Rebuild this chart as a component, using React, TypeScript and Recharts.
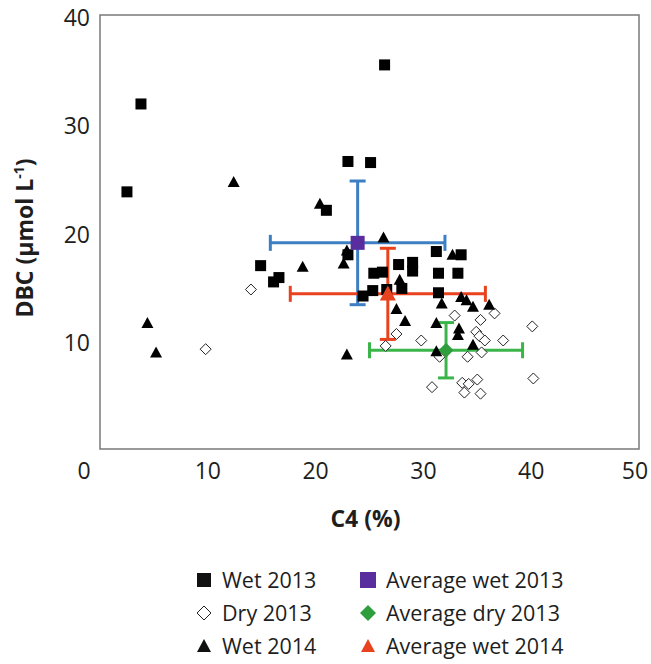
import { ScatterChart, Scatter, XAxis, YAxis, ErrorBar, ReferenceArea, Label } from "recharts";

// C4 (%) vs DBC (µmol L-1)
const wet2013X = [2.5, 3.8, 26.4, 23.0, 25.1, 21.0, 14.9, 16.6, 16.1, 23.0, 27.7, 29.0, 29.0, 31.2, 33.5, 31.4, 33.2, 25.4, 26.2, 28.0, 24.4, 25.3, 26.6, 31.4];
const wet2013Y = [23.7, 31.8, 35.4, 26.5, 26.4, 22.0, 16.9, 15.8, 15.4, 17.9, 17.0, 17.2, 16.4, 18.2, 17.9, 16.2, 16.2, 16.2, 16.3, 14.8, 14.1, 14.6, 14.7, 14.4];

const dry2013X = [9.8, 14.0, 26.5, 27.5, 29.8, 32.9, 35.3, 36.6, 40.1, 34.9, 35.2, 35.7, 37.4, 35.4, 34.1, 31.5, 40.2, 30.8, 33.6, 34.2, 35.0, 33.8, 35.3];
const dry2013Y = [9.2, 14.7, 9.5, 10.6, 10.0, 12.3, 11.9, 12.5, 11.3, 10.8, 10.4, 10.0, 10.0, 8.9, 8.5, 8.5, 6.5, 5.7, 6.1, 6.0, 6.4, 5.2, 5.1];

const wet2014X = [4.4, 5.2, 12.4, 20.4, 18.8, 22.9, 22.6, 26.3, 27.8, 27.5, 28.3, 22.9, 31.2, 31.7, 32.7, 33.5, 34.0, 34.6, 36.1, 33.3, 33.2, 34.6, 31.2];
const wet2014Y = [11.6, 8.9, 24.6, 22.6, 16.8, 18.3, 17.1, 19.5, 15.6, 12.9, 11.8, 8.7, 11.6, 13.4, 17.9, 14.0, 13.7, 13.1, 13.3, 11.1, 10.5, 9.6, 9.0];

// averages: mean and error (x, y)
const avgWet2013 = { x: 23.9, y: 19.0, ex: 8.1, ey: 5.7 };
const avgDry2013 = { x: 32.1, y: 9.1, ex: 7.1, ey: 2.55 };
const avgWet2014 = { x: 26.7, y: 14.3, ex: 9.05, ey: 4.2 };

const xTicks = [0, 10, 20, 30, 40, 50];
const yTicks = [10, 20, 30, 40];

const toPoints = (xs: number[], ys: number[]) => xs.map((x, i) => ({ x, y: ys[i] }));

const PURPLE = "#5a2d9e";
const GREEN = "#2f9e3c";
const GREEN_BAR = "#3bb54a";
const RED = "#e8421e";
const BLUE = "#3d7fc2";

const square = (size: number, fill: string) => (p: any) => (
  <rect x={p.cx - size / 2} y={p.cy - size / 2} width={size} height={size} fill={fill} />
);
const triangle = (w: number, h: number, fill: string) => (p: any) => (
  <path d={`M${p.cx},${p.cy - h * 0.55}L${p.cx + w / 2},${p.cy + h * 0.45}L${p.cx - w / 2},${p.cy + h * 0.45}Z`} fill={fill} />
);
const diamond = (r: number, fill: string, stroke?: string) => (p: any) => (
  <path
    d={`M${p.cx},${p.cy - r}L${p.cx + r},${p.cy}L${p.cx},${p.cy + r}L${p.cx - r},${p.cy}Z`}
    fill={fill}
    stroke={stroke}
    strokeWidth={stroke ? 1 : 0}
  />
);

const XTick = ({ x, y, payload }: any) => {
  const shift = payload.value === 0 ? -16 : payload.value === 50 ? -4 : 0;
  return (
    <text x={x + shift} y={y} dy="0.71em" textAnchor="middle" fontSize={23} fill="#1e1e1e">
      {payload.value}
    </text>
  );
};

const YTick = ({ x, y, payload }: any) => (
  <text x={x} y={y + 2.5} dy="0.355em" textAnchor="end" fontSize={23} fill="#1e1e1e">
    {payload.value}
  </text>
);

const XTitle = ({ viewBox }: any) => (
  <text x={viewBox.x + viewBox.width / 2 - 4} y={viewBox.y + 78} textAnchor="middle" fontSize={23} fontWeight="bold" fill="#1e1e1e">
    C4 (%)
  </text>
);

const YTitle = ({ viewBox }: any) => (
  <text
    transform={`translate(${viewBox.x + 33},${viewBox.y + 223}) rotate(-90)`}
    textAnchor="middle"
    fontSize={23}
    fontWeight="bold"
    fill="#1e1e1e"
  >
    DBC (µmol L
    <tspan dy={-9} fontSize={14}>-1</tspan>
    <tspan dy={9}>)</tspan>
  </text>
);

const legendLeft = [
  { label: "Wet 2013", marker: <rect x={-7} y={-7} width={14} height={14} fill="#111" /> },
  { label: "Dry 2013", marker: <path d="M0,-7L7,0L0,7L-7,0Z" fill="#fff" stroke="#222" strokeWidth={1} /> },
  { label: "Wet 2014", marker: <path d="M0,-7L7,6L-7,6Z" fill="#111" /> },
];
const legendRight = [
  { label: "Average wet 2013", marker: <rect x={-8} y={-8} width={16} height={16} fill={PURPLE} /> },
  { label: "Average dry 2013", marker: <path d="M0,-8L8,0L0,8L-8,0Z" fill={GREEN} /> },
  { label: "Average wet 2014", marker: <path d="M0,-7L7,6L-7,6Z" fill={RED} /> },
];
const rowY = [580, 613, 646];

export default function App() {
  return (
    <div style={{ position: "absolute", left: 0, top: 0, width: 651, height: 664, background: "#fff", fontFamily: "'Open Sans', sans-serif" }}>
      <ScatterChart width={651} height={540} margin={{ top: 15, right: 12, bottom: 0, left: 0 }}>
        <XAxis
          type="number"
          dataKey="x"
          domain={[0, 50]}
          ticks={xTicks}
          tick={<XTick />}
          tickSize={0}
          tickMargin={14}
          axisLine={false}
          tickLine={false}
          height={91}
          allowDataOverflow
        >
          <Label content={<XTitle />} />
        </XAxis>
        <YAxis
          type="number"
          dataKey="y"
          domain={[0, 40]}
          ticks={yTicks}
          tick={<YTick />}
          tickSize={0}
          tickMargin={10}
          axisLine={false}
          tickLine={false}
          width={100}
          allowDataOverflow
        >
          <Label content={<YTitle />} />
        </YAxis>
        <ReferenceArea x1={0} x2={50} y1={0} y2={40} fill="none" stroke="#7a7a7a" strokeWidth={1.5} />
        <Scatter name="Wet 2013" data={toPoints(wet2013X, wet2013Y)} shape={square(11, "#000")} isAnimationActive={false} />
        <Scatter name="Dry 2013" data={toPoints(dry2013X, dry2013Y)} shape={diamond(5.5, "#fff", "#222")} isAnimationActive={false} />
        <Scatter name="Wet 2014" data={toPoints(wet2014X, wet2014Y)} shape={triangle(12, 11, "#000")} isAnimationActive={false} />
        <Scatter name="Average wet 2013" data={[avgWet2013]} shape={square(14, PURPLE)} isAnimationActive={false}>
          <ErrorBar dataKey="ex" direction="x" width={8} strokeWidth={3} stroke={BLUE} />
          <ErrorBar dataKey="ey" direction="y" width={8} strokeWidth={3} stroke={BLUE} />
        </Scatter>
        <Scatter name="Average dry 2013" data={[avgDry2013]} shape={diamond(7.5, GREEN)} isAnimationActive={false}>
          <ErrorBar dataKey="ex" direction="x" width={8} strokeWidth={3} stroke={GREEN_BAR} />
          <ErrorBar dataKey="ey" direction="y" width={8} strokeWidth={3} stroke={GREEN_BAR} />
        </Scatter>
        <Scatter name="Average wet 2014" data={[avgWet2014]} shape={triangle(16, 15, RED)} isAnimationActive={false}>
          <ErrorBar dataKey="ex" direction="x" width={8} strokeWidth={3} stroke={RED} />
          <ErrorBar dataKey="ey" direction="y" width={8} strokeWidth={3} stroke={RED} />
        </Scatter>
      </ScatterChart>
      <svg width={651} height={124} style={{ position: "absolute", left: 0, top: 540 }}>
        {legendLeft.map((item, i) => (
          <g key={item.label}>
            <g transform={`translate(204,${rowY[i] - 540})`}>{item.marker}</g>
            <text x={222} y={rowY[i] - 540 + 7.5} fontSize={21.5} fill="#1e1e1e">{item.label}</text>
          </g>
        ))}
        {legendRight.map((item, i) => (
          <g key={item.label}>
            <g transform={`translate(368,${rowY[i] - 540})`}>{item.marker}</g>
            <text x={386} y={rowY[i] - 540 + 7.5} fontSize={21.5} fill="#1e1e1e">{item.label}</text>
          </g>
        ))}
      </svg>
    </div>
  );
}
